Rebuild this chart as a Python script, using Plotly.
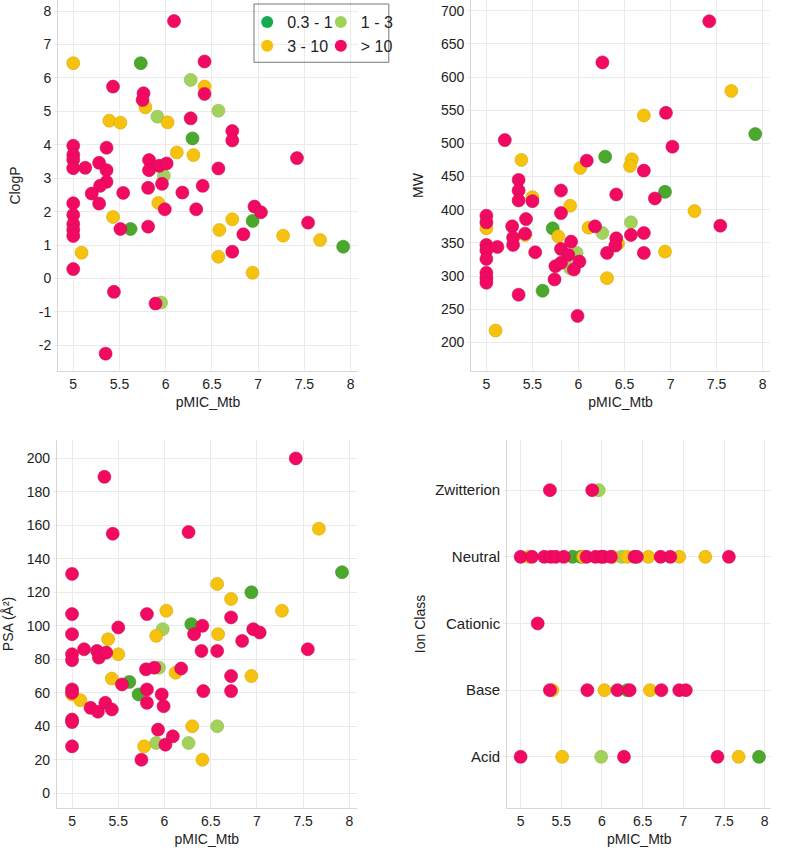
import plotly.graph_objects as go

# ---------------- data ----------------
groups = ["0.3 - 1", "1 - 3", "3 - 10", "> 10"]
x_ticks = [5, 5.5, 6, 6.5, 7, 7.5, 8]
x_ticktext = ["5", "5.5", "6", "6.5", "7", "7.5", "8"]
clogp_ticks = [-2, -1, 0, 1, 2, 3, 4, 5, 6, 7, 8]
clogp_ticktext = ["-2", "-1", "0", "1", "2", "3", "4", "5", "6", "7", "8"]

# Panel 1: ClogP vs pMIC_Mtb
clogp_g_x = [5.73, 6.29, 5.62, 6.94, 7.92]
clogp_g_y = [6.44, 4.19, 1.48, 1.72, 0.95]
clogp_lg_x = [6.27, 6.57, 5.91, 5.98, 5.95]
clogp_lg_y = [5.94, 5.02, 4.84, 3.07, -0.72]
clogp_y_x = [5.0, 6.42, 5.78, 6.02, 5.39, 5.51, 6.12, 6.30, 5.92, 5.43, 6.72, 5.09, 6.58, 6.57, 6.94, 7.27, 7.67]
clogp_y_y = [6.44, 5.74, 5.12, 4.67, 4.72, 4.66, 3.77, 3.69, 2.26, 1.84, 1.77, 0.77, 1.45, 0.65, 0.17, 1.28, 1.15]
clogp_r_x = [6.09, 6.42, 6.42, 5.43, 5.76, 5.75, 6.27, 6.72, 6.72, 5.0, 5.0, 5.0, 5.0, 5.13, 5.36, 5.28, 5.36,
             5.36, 5.29, 5.20, 5.28, 5.54, 5.82, 5.82, 5.93, 6.01, 5.96, 5.81, 6.18, 6.40, 6.57, 7.42, 5.99,
             6.33, 5.0, 5.0, 5.0, 5.0, 5.0, 5.0, 6.96, 7.03, 7.54, 5.51, 5.81, 5.44, 5.89, 5.35, 6.84, 6.72]
clogp_r_y = [7.70, 6.49, 5.52, 5.74, 5.54, 5.34, 4.79, 4.41, 4.13, 3.97, 3.70, 3.55, 3.30, 3.31, 3.91, 3.46, 3.24,
             2.89, 2.77, 2.54, 2.24, 2.56, 3.54, 3.24, 3.37, 3.44, 2.83, 2.71, 2.57, 2.77, 3.29, 3.60, 2.07,
             2.07, 2.25, 1.90, 1.63, 1.45, 1.27, 0.28, 2.15, 1.98, 1.67, 1.48, 1.55, -0.40, -0.75, -2.25, 1.32, 0.80]

# Panel 2: MW vs pMIC_Mtb
mw_g_x = [7.92, 6.29, 6.94, 5.72, 5.61]
mw_g_y = [514, 480, 427, 372, 278]
mw_lg_x = [6.57, 6.26, 5.98, 5.91]
mw_lg_y = [381, 365, 335, 312]
mw_y_x = [7.66, 6.71, 5.38, 6.02, 6.58, 6.56, 5.50, 5.91, 7.26, 6.11, 5.0, 5.42, 5.78, 6.43, 6.94, 6.31, 5.10]
mw_y_y = [579, 542, 475, 463, 476, 466, 419, 406, 398, 373, 372, 362, 360, 349, 337, 297, 218]
mw_r_x = [7.42, 6.26, 6.95, 5.20, 7.02, 6.09, 6.71, 5.35, 5.35, 5.35, 5.50, 5.81, 6.41, 6.83, 5.81, 5.0, 5.0,
          5.43, 5.28, 6.18, 7.54, 5.0, 5.0, 5.0, 5.0, 5.0, 5.0, 5.12, 5.29, 5.29, 5.42, 5.53, 5.81, 5.92,
          5.89, 6.01, 5.75, 5.81, 5.95, 5.74, 5.35, 5.99, 6.31, 6.41, 6.40, 6.57, 6.71, 6.71]
mw_r_y = [684, 622, 546, 505, 495, 474, 459, 445, 429, 414, 413, 429, 423, 417, 395, 391, 381,
          386, 375, 375, 376, 347, 339, 326, 305, 297, 290, 344, 347, 358, 364, 336, 341, 352,
          332, 322, 315, 320, 310, 295, 272, 240, 335, 357, 346, 362, 365, 335]

# Panel 3: PSA vs pMIC_Mtb
psa_g_x = [7.92, 6.94, 6.29, 5.62, 5.72]
psa_g_y = [132, 120, 101, 66.5, 59]
psa_lg_x = [5.98, 5.94, 6.57, 5.91, 6.26]
psa_lg_y = [98, 75, 40, 30, 30]
psa_y_x = [7.67, 6.57, 6.72, 6.02, 7.27, 5.91, 6.58, 5.39, 5.50, 6.12, 5.43, 5.0, 5.09, 6.94, 6.30, 5.78, 6.41]
psa_y_y = [158, 125, 116, 109, 109, 94, 95, 92, 83, 72, 68.5, 59, 55.6, 70, 40, 28, 20]
psa_r_x = [7.42, 5.35, 5.44, 6.26, 5.0, 5.0, 5.81, 6.72, 6.41, 5.50, 5.0, 6.32, 6.96, 7.03, 6.84, 7.55,
           5.0, 5.0, 5.13, 5.27, 5.29, 5.37, 6.40, 6.57, 5.80, 5.89, 6.18, 5.54, 5.81, 5.81, 5.97, 5.99,
           5.0, 5.0, 5.20, 5.28, 5.36, 5.43, 5.0, 5.0, 5.0, 6.42, 6.72, 6.72, 5.93, 6.01, 6.09, 5.75]
psa_r_y = [200, 189, 155, 156, 131, 107, 107, 105, 100, 99, 95, 95, 98, 96, 91, 86,
           83, 79.5, 86, 85, 81, 84, 85, 85, 74, 75, 74.5, 65, 62, 54, 59, 52,
           62, 60, 51, 48.7, 54, 50, 44, 42.5, 28, 61, 70, 61, 38, 29, 34, 20]

# Panel 4: Ion class vs pMIC_Mtb
ion_categories = ["Acid", "Base", "Cationic", "Neutral", "Zwitterion"]
ion_g_x = [5.64, 5.74, 6.31, 7.93]
ion_g_y = ["Neutral", "Neutral", "Base", "Acid"]
ion_lg_x = [5.96, 6.24, 5.99]
ion_lg_y = ["Zwitterion", "Neutral", "Acid"]
ion_y_x = [5.10, 5.77, 6.13, 6.31, 6.57, 6.95, 7.27, 5.39, 6.03, 6.59, 5.51, 7.68]
ion_y_y = ["Neutral", "Neutral", "Neutral", "Neutral", "Neutral", "Neutral", "Neutral",
           "Base", "Base", "Base", "Acid", "Acid"]
ion_r_x = [5.36, 5.88,
           5.0, 5.14, 5.29, 5.37, 5.43, 5.53, 5.81, 5.92, 5.99, 6.02, 6.11, 6.40, 6.43, 6.72, 6.84, 7.56,
           5.21,
           5.36, 5.82, 6.19, 6.34, 6.73, 6.95, 7.03,
           5.0, 6.27, 7.42]
ion_r_y = ["Zwitterion", "Zwitterion"] + ["Neutral"] * 16 + ["Cationic"] + ["Base"] * 7 + ["Acid"] * 3

# ---------------- style ----------------
colors = ["#4aa82c", "#a3d25c", "#f6c20e", "#f20a62"]
edges = ["#3b8f22", "#8dbb48", "#d9a800", "#cc0a52"]
legend_colors = ["#17a94f", "#9fd35a", "#f7c00a", "#f20a62"]
FONT = "Arial, Liberation Sans, sans-serif"
TXT = "#222222"
GRID = "#ebebeb"
LINE = "#d6d6d6"

fig = go.Figure()

panels = [
    ("x", "y", [(clogp_g_x, clogp_g_y), (clogp_lg_x, clogp_lg_y), (clogp_y_x, clogp_y_y), (clogp_r_x, clogp_r_y)]),
    ("x2", "y2", [(mw_g_x, mw_g_y), (mw_lg_x, mw_lg_y), (mw_y_x, mw_y_y), (mw_r_x, mw_r_y)]),
    ("x3", "y3", [(psa_g_x, psa_g_y), (psa_lg_x, psa_lg_y), (psa_y_x, psa_y_y), (psa_r_x, psa_r_y)]),
    ("x4", "y4", [(ion_g_x, ion_g_y), (ion_lg_x, ion_lg_y), (ion_y_x, ion_y_y), (ion_r_x, ion_r_y)]),
]
for xa, ya, series in panels:
    for i, (xs, ys) in enumerate(series):
        fig.add_trace(go.Scatter(
            x=xs, y=ys, xaxis=xa, yaxis=ya, mode="markers", name=groups[i], showlegend=False,
            marker=dict(size=13, color=colors[i], line=dict(width=0.6, color=edges[i]))))

# legend-only entries (two columns)
for i, g in enumerate(groups):
    fig.add_trace(go.Scatter(
        x=[None], y=[None], mode="markers", name=g, showlegend=True,
        legend="legend" if i in (0, 2) else "legend2",
        marker=dict(size=12, color=legend_colors[i])))


def xax(domain, title, standoff=6):
    return dict(domain=domain, range=[4.835, 8.08], tickvals=x_ticks, ticktext=x_ticktext,
                showgrid=True, gridcolor=GRID, gridwidth=1, zeroline=False,
                showline=True, linecolor=LINE, linewidth=1, ticks="",
                tickfont=dict(family=FONT, size=14, color=TXT),
                title=dict(text=title, font=dict(family=FONT, size=14, color=TXT), standoff=standoff))


def yax(domain, rng, title, standoff=14, **kw):
    d = dict(domain=domain, range=rng,
             showgrid=True, gridcolor=GRID, gridwidth=1, zeroline=False,
             showline=True, linecolor=LINE, linewidth=1, ticks="outside", ticklen=3, tickcolor=GRID,
             tickfont=dict(family=FONT, size=14, color=TXT),
             title=dict(text=title, font=dict(family=FONT, size=14, color=TXT), standoff=standoff))
    d.update(kw)
    return d


top = [0.565, 1.0]
bot = [0.053, 0.484]

fig.update_layout(
    width=800, height=853, margin=dict(l=0, r=0, t=0, b=0),
    paper_bgcolor="white", plot_bgcolor="white",
    xaxis=dict(xax([0.0725, 0.4475], "pMIC_Mtb"), anchor="y"),
    yaxis=dict(yax(top, [-2.77, 8.33], "ClogP", tickvals=clogp_ticks, ticktext=clogp_ticktext), anchor="x"),
    xaxis2=dict(xax([0.589, 0.9625], "pMIC_Mtb"), anchor="y2"),
    yaxis2=dict(yax(top, [157, 716], "MW", dtick=50, tick0=0), anchor="x2"),
    xaxis3=dict(xax([0.071, 0.446], "pMIC_Mtb"), anchor="y3"),
    yaxis3=dict(yax(bot, [-8.7, 210.9], "PSA (Å²)", dtick=20, tick0=0), anchor="x3"),
    xaxis4=dict(xax([0.634, 0.964], "pMIC_Mtb"), anchor="y4"),
    yaxis4=dict(yax(bot, [-0.765, 4.75], "Ion Class", standoff=6, type="category", categoryorder="array",
                    categoryarray=ion_categories, tickfont=dict(family=FONT, size=15, color=TXT)),
                anchor="x4"),
    legend=dict(x=0.309, y=0.994, xanchor="left", yanchor="top", orientation="v",
                bgcolor="rgba(0,0,0,0)", borderwidth=0, tracegroupgap=0,
                font=dict(family=FONT, size=16, color=TXT)),
    legend2=dict(x=0.401, y=0.994, xanchor="left", yanchor="top", orientation="v",
                 bgcolor="rgba(0,0,0,0)", borderwidth=0, tracegroupgap=0,
                 font=dict(family=FONT, size=16, color=TXT)),
    shapes=[dict(type="rect", xref="paper", yref="paper", x0=0.3175, x1=0.486, y0=0.927, y1=0.9953,
                 line=dict(color="#777777", width=1), fillcolor="rgba(0,0,0,0)")],
)

fig.write_html("out.html", config={"displayModeBar": False},
               post_script="document.body.style.margin='0';document.body.style.overflow='hidden';")
